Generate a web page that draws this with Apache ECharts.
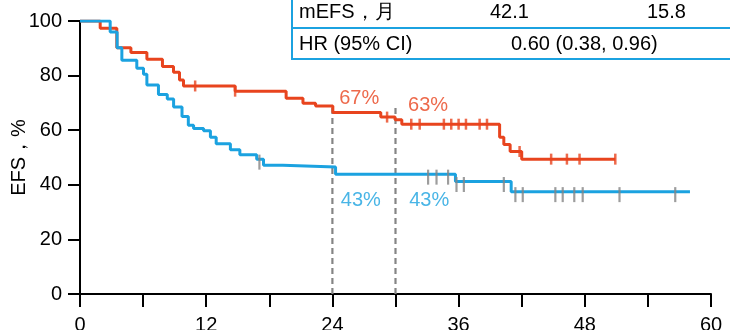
<!DOCTYPE html>
<html>
<head>
<meta charset="utf-8">
<script src="https://cdn.jsdelivr.net/npm/echarts@6/dist/echarts.min.js"></script>
<style>html,body{margin:0;padding:0;background:#fff;}#c{width:730px;height:330px;}</style>
</head>
<body>
<div id="c"></div>
<script>
// ---- data ----
var xTicks = [0, 12, 24, 36, 48, 60];
var yTicks = [0, 20, 40, 60, 80, 100];
var redTimes = [0, 1.92, 3.5, 4.84, 6.36, 7.84, 8.89, 9.46, 9.84, 14.75, 19.6, 21.2, 22.4, 24.04, 28.6, 29.96, 30.6, 39.9, 40.3, 40.9, 42.0, 50.9];
var redSurv  = [100, 97.3, 90.2, 88.5, 86.0, 83.3, 81.2, 78.4, 76.2, 74.3, 71.7, 69.9, 68.9, 66.5, 64.8, 63.8, 62.2, 57.4, 54.8, 52.2, 49.4, 49.4];
var redCensor = [10.95, 14.75, 29.2, 31.5, 32.3, 34.6, 35.3, 36.0, 36.7, 38.0, 38.7, 41.8, 44.8, 46.3, 47.5, 50.9];
var blueTimes = [0, 2.87, 3.53, 3.98, 5.4, 6.04, 6.36, 7.46, 8.3, 8.9, 9.7, 10.3, 10.8, 11.75, 12.4, 12.95, 14.3, 15.2, 16.8, 17.45, 19.3, 24.3, 35.7, 41.0, 58.0];
var blueSurv  = [100, 96.0, 90.2, 85.6, 82.7, 80.5, 76.6, 73.1, 71.4, 68.5, 65.0, 61.8, 60.6, 59.8, 57.4, 55.0, 52.8, 51.0, 49.4, 47.2, 46.5, 43.9, 41.2, 37.5, 37.5];
var blueCensor = [17.06, 33.1, 33.9, 35.0, 35.8, 36.5, 40.3, 41.4, 42.1, 45.2, 45.9, 47.0, 47.8, 51.3, 56.6];
var landmarkTimes = [24, 30];
var redLandmarkLabels = ['67%', '63%'];
var blueLandmarkLabels = ['43%', '43%'];
var tableRows = [
  ['mEFS，月', '42.1', '15.8'],
  ['HR (95% CI)', '0.60 (0.38, 0.96)']
];

var RED = '#E8441E', BLUE = '#1BA2E0', GREY = '#858585';
var FONT = '"Liberation Sans", Arial, Helvetica, sans-serif';

function pairs(t, s) { return t.map(function (v, i) { return [v, s[i]]; }); }
function levelAt(t, times, surv) {
  var v = surv[0];
  for (var i = 0; i < times.length; i++) { if (times[i] <= t) v = surv[i]; }
  return v;
}
function censorPts(c, times, surv) { return c.map(function (t) { return [t, levelAt(t, times, surv)]; }); }

var chart = echarts.init(document.getElementById('c'), null, {renderer: 'canvas'});

var dashSeries = landmarkTimes.map(function (t) {
  return {
    type: 'line', data: [[t, 0], [t, 68.2]], showSymbol: false, silent: true, z: 1,
    lineStyle: {color: GREY, width: 2.2, type: [6, 4]}
  };
});

var option = {
  animation: false,
  grid: {left: 80, right: 19, top: 21, bottom: 36, containLabel: false, outerBoundsMode: 'none'},
  xAxis: {
    type: 'value', min: 0, max: 60, interval: 6,
    axisLine: {show: true, onZero: false, lineStyle: {color: '#000', width: 2}},
    axisTick: {show: true, length: 13, lineStyle: {color: '#000', width: 2}},
    axisLabel: {
      margin: 21, color: '#000', fontSize: 20, fontFamily: FONT, hideOverlap: false,
      formatter: function (v) { return xTicks.indexOf(v) >= 0 ? String(v) : ''; }
    },
    splitLine: {show: false}
  },
  yAxis: {
    type: 'value', min: 0, max: 100, interval: 20,
    name: 'EFS，%', nameLocation: 'middle', nameGap: 51, nameRotate: 90, nameMoveOverlap: false,
    nameTextStyle: {color: '#000', fontSize: 20, fontFamily: FONT},
    axisLine: {show: true, lineStyle: {color: '#000', width: 2}},
    axisTick: {show: true, length: 12, lineStyle: {color: '#000', width: 2}},
    axisLabel: {
      margin: 18, color: '#000', fontSize: 20, fontFamily: FONT,
      formatter: function (v) { return yTicks.indexOf(v) >= 0 ? String(v) : ''; }
    },
    splitLine: {show: false}
  },
  series: dashSeries.concat([
    {
      type: 'line', step: 'end', data: pairs(blueTimes, blueSurv), showSymbol: false, z: 4,
      lineStyle: {color: BLUE, width: 3}
    },
    {
      type: 'line', step: 'end', data: pairs(redTimes, redSurv), showSymbol: false, z: 3,
      lineStyle: {color: RED, width: 3}
    },
    {
      type: 'scatter', data: censorPts(blueCensor, blueTimes, blueSurv), symbol: 'rect',
      symbolSize: [2.2, 15], symbolOffset: [0, 3], z: 5,
      itemStyle: {color: GREY}
    },
    {
      type: 'scatter', data: censorPts(redCensor, redTimes, redSurv), symbol: 'rect',
      symbolSize: [2.5, 11], z: 6,
      itemStyle: {color: RED}
    },
    {
      type: 'scatter', symbolSize: 0, z: 7, silent: true,
      data: [[26.55, 71.5], [33.1, 68.9]].map(function (p, i) {
        return {value: p, label: {formatter: redLandmarkLabels[i]}};
      }),
      label: {show: true, position: 'inside', color: RED, fontSize: 20, fontFamily: FONT}
    },
    {
      type: 'scatter', symbolSize: 0, z: 7, silent: true,
      data: [[26.7, 34.1], [33.2, 34.1]].map(function (p, i) {
        return {value: p, label: {formatter: blueLandmarkLabels[i]}};
      }),
      label: {show: true, position: 'inside', color: BLUE, fontSize: 20, fontFamily: FONT}
    }
  ]),
  graphic: [
    {type: 'line', shape: {x1: 292, y1: -5, x2: 292, y2: 59}, style: {stroke: BLUE, lineWidth: 2}},
    {type: 'line', shape: {x1: 292, y1: 28, x2: 740, y2: 28}, style: {stroke: BLUE, lineWidth: 2}},
    {type: 'line', shape: {x1: 291, y1: 59, x2: 740, y2: 59}, style: {stroke: BLUE, lineWidth: 2}},
    {type: 'text', left: 299, top: 2, style: {text: tableRows[0][0], fontSize: 20, fontFamily: FONT, fill: '#000'}},
    {type: 'text', left: 490, top: 2, style: {text: tableRows[0][1], fontSize: 20, fontFamily: FONT, fill: '#000'}},
    {type: 'text', left: 647, top: 2, style: {text: tableRows[0][2], fontSize: 20, fontFamily: FONT, fill: '#000'}},
    {type: 'text', left: 299, top: 34, style: {text: tableRows[1][0], fontSize: 20, fontFamily: FONT, fill: '#000'}},
    {type: 'text', left: 511, top: 34, style: {text: tableRows[1][1], fontSize: 20, fontFamily: FONT, fill: '#000'}}
  ]
};
chart.setOption(option);
</script>
</body>
</html>
